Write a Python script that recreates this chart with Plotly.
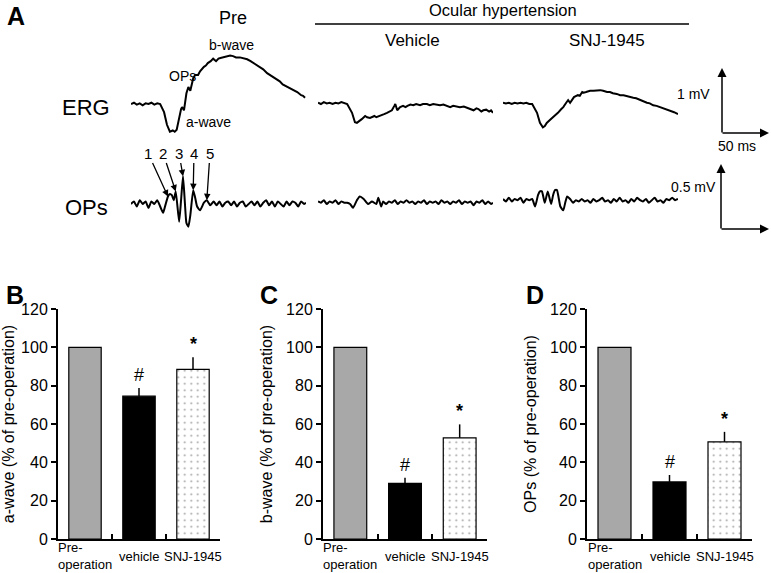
import plotly.graph_objects as go

W, H = 771, 573
FONT = "Liberation Sans, Arial, sans-serif"

# ---------------- data ----------------
# ERG traces (time ms, mV)
PRE_ERG = [(0,0.0),(3,0.02),(6,-0.01),(9,0.01),(12,-0.02),(15,0.01),(18,0.0),(21,0.02),(24,-0.01),(27,0.01),(30,0.0),
           (34,-0.13),(37,-0.33),(40,-0.44),(43,-0.42),(45,-0.44),(47,-0.41),(49,-0.25),(51.5,-0.08),(52.5,-0.05),(54.5,-0.10),
           (57,0.17),(59,0.27),(61,0.21),(64,0.41),(66,0.46),(69,0.46),(71,0.52),(73,0.56),(75,0.59),(77,0.61),(79,0.65),
           (82,0.68),(84.5,0.72),(87.5,0.68),(90,0.72),(92,0.73),(95,0.74),(99,0.75),(102,0.77),(105,0.76),(108,0.74),
           (112,0.74),(116,0.72),(119.5,0.71),(123,0.68),(126,0.65),(129,0.62),(133,0.57),(136,0.55),(140,0.49),(143,0.46),
           (146,0.43),(150,0.38),(153,0.36),(156,0.31),(161,0.27),(164,0.24),(168,0.22),(171,0.19),(175,0.14),(177,0.13),(179,0.10)]
VEH_ERG = [(0,0.02),(3,0.0),(6,0.03),(9,0.01),(12,0.02),(15,0.0),(18,0.02),(21,0.01),(24,0.03),(27,0.01),(30,0.0),
           (35,-0.14),(38,-0.29),(40,-0.30),(43,-0.27),(45,-0.24),(48.5,-0.19),(50.5,-0.21),(53.5,-0.22),(55.5,-0.21),
           (58,-0.19),(60,-0.21),(64,-0.19),(68,-0.16),(71,-0.14),(74,-0.11),(76,-0.10),(78.5,-0.03),(79.5,0.0),(81.5,-0.10),
           (84.5,-0.05),(87.5,-0.03),(90,-0.05),(92,-0.03),(95,-0.01),(98,-0.02),(101,0.0),(105,-0.02),(108,0.0),(112,0.0),
           (115,-0.02),(118.5,0.0),(122,-0.01),(125.5,-0.02),(129,-0.01),(133,-0.03),(136,-0.05),(139,-0.03),(142,-0.04),
           (146,-0.05),(150,-0.04),(153.5,-0.06),(157,-0.08),(160,-0.10),(163,-0.07),(165,-0.08),(168,-0.12),(170,-0.10),
           (173,-0.09),(176,-0.12),(178,-0.10),(180,-0.14)]
SNJ_ERG = [(0,0.02),(3,0.01),(6,0.02),(9,0.0),(12,0.02),(15,0.01),(18,0.02),(21,0.01),(24,0.02),(27,0.0),(30,0.0),
           (35,-0.14),(38,-0.30),(41,-0.37),(43,-0.35),(45,-0.30),(48.5,-0.25),(51.5,-0.21),(54,-0.18),(56.5,-0.14),
           (60,-0.08),(62,-0.05),(65,0.02),(67,0.06),(69,0.02),(71,0.06),(73,0.11),(77,0.14),(79,0.13),(81.5,0.19),
           (83,0.18),(85.5,0.19),(89.5,0.21),(93,0.21),(97,0.22),(100,0.22),(103,0.21),(107,0.19),(110,0.19),(113,0.17),
           (117,0.16),(120.5,0.14),(124,0.14),(127.5,0.13),(131,0.11),(134,0.10),(137,0.09),(141,0.06),(144,0.05),
           (148,0.02),(151,0.01),(154.5,-0.02),(158,-0.03),(162,-0.05),(165,-0.07),(167,-0.08),(170,-0.10),(172,-0.11),
           (176,-0.13),(180,-0.16)]

# OPs traces (time ms, mV)
PRE_OPS = [(0,0.0),(3,0.02),(6,-0.02),(9,0.03),(12,0.0),(15,0.02),(18,-0.03),(21,0.02),(24,0.0),(27,0.03),(30,-0.02),
           (33,-0.07),(35,-0.02),(38,0.06),(40,0.08),(42,0.07),(44,0.03),(46,0.10),(49.5,-0.14),(51.5,0.03),(53.5,0.22),
           (55.5,0.0),(57,-0.15),(59,-0.18),(61,-0.09),(64,0.11),(66,0.05),(68,-0.02),(71,-0.05),(75,0.01),(78,0.03),
           (81.5,-0.01),(85,0.02),(88,-0.01),(91,0.02),(94,-0.02),(97,0.01),(100,0.02),(103,-0.01),(106,0.02),(109,-0.02),
           (112,0.01),(115,0.02),(118,-0.02),(121,0.0),(124,0.02),(127,-0.01),(130,0.02),(133,-0.02),(136,0.01),(139,0.03),
           (142,-0.01),(145,0.02),(148,-0.02),(151,0.02),(154,0.0),(157,-0.02),(160,0.02),(163,-0.01),(166,0.02),(169,0.01),
           (172,-0.02),(175,0.02),(178,0.0),(180,0.01)]
VEH_OPS = [(0,0.02),(3,0.01),(6,0.03),(9,0.0),(12,0.02),(15,0.01),(18,0.03),(21,0.0),(24,0.02),(27,0.01),(30,0.01),
           (33,0.0),(36,-0.03),(40,0.03),(43,0.06),(47,0.04),(51.5,0.0),(55.5,0.02),(60,0.0),(62,0.05),(65,-0.02),(67,0.02),
           (70,0.0),(73,0.02),(76,0.01),(79,0.03),(82,0.0),(85,0.02),(88,0.01),(91,0.03),(94,0.01),(97,0.02),(100,0.0),
           (103,0.02),(106,0.01),(109,0.03),(112,0.0),(115,0.02),(118,0.01),(121,0.02),(124,0.0),(127,0.03),(130,0.01),
           (133,0.02),(136,0.0),(139,0.02),(142,0.01),(145,0.03),(148,0.0),(151,0.02),(154,0.01),(157,0.02),(160,-0.01),
           (163,0.02),(166,0.01),(169,0.03),(172,0.0),(175,0.02),(178,0.0),(180,0.01)]
SNJ_OPS = [(0,0.04),(3,0.02),(6,0.05),(9,0.02),(12,0.04),(15,0.03),(18,0.05),(21,0.01),(24,0.04),(27,0.03),(30,0.04),
           (33,-0.02),(36,0.07),(38,0.10),(40,0.10),(43,0.01),(46,0.10),(49.5,0.0),(51.5,0.07),(53.5,0.11),(55.5,0.11),
           (59,-0.02),(62,-0.05),(64,0.01),(66,0.06),(69,0.04),(72,0.01),(75,0.03),(78,0.02),(81,0.04),(84,0.02),(87,0.03),
           (90,0.01),(93,0.04),(96,0.02),(99,0.03),(102,0.05),(105,0.02),(108,0.03),(111,0.01),(114,0.04),(117,0.02),
           (120,0.05),(123,0.02),(126,0.03),(129,0.01),(132,0.04),(135,0.02),(138,0.05),(141,0.03),(144,0.02),(147,0.04),
           (150,0.01),(153,0.03),(156,0.05),(159,0.02),(162,0.03),(165,0.01),(168,0.04),(171,0.03),(174,0.05),(177,0.03),
           (180,0.04)]

# OP peak numbering (time ms, mV) on pre-operative OPs
OP_PEAK_LABELS = ["1", "2", "3", "4", "5"]
OP_PEAKS = [(38,0.06),(46,0.10),(53.5,0.22),(64,0.11),(78,0.03)]

# bar panels
CATEGORIES = ["Pre-operation", "vehicle", "SNJ-1945"]
CAT_LABELS = ["Pre-<br>operation", "vehicle", "SNJ-1945"]
A_WAVE = [100, 74.5, 88.5]
A_WAVE_SEM = [0, 4.3, 6.3]
B_WAVE = [100, 29, 52.8]
B_WAVE_SEM = [0, 3, 7]
OPS_AMP = [100, 29.8, 50.7]
OPS_AMP_SEM = [0, 3.6, 5.2]
SIG_MARKS = ["", "#", "<b>*</b>"]
Y_TICKS = [0, 20, 40, 60, 80, 100, 120]

# ---------------- figure ----------------
fig = go.Figure()

def px_x(p):
    return p / W

def px_y(p):
    return 1 - p / H

# trace panel geometry
TRACE_X = [(131, 306), (318, 493), (503, 678)]
ERG_Y = (40, 140)    # px top, bottom
OPS_Y = (160, 240)
ERG_RANGE = [-(140 - 104) / 63, (104 - 40) / 63]
OPS_RANGE = [-(240 - 204) / 126, (204 - 160) / 126]

erg_sets = [PRE_ERG, VEH_ERG, SNJ_ERG]
ops_sets = [PRE_OPS, VEH_OPS, SNJ_OPS]
layout_axes = {}
for i in range(3):
    for j, (sets, ydom, yr) in enumerate([(erg_sets, ERG_Y, ERG_RANGE), (ops_sets, OPS_Y, OPS_RANGE)]):
        n = 4 + i + 3 * j
        data = sets[i]
        line = dict(color="black", width=2)
        if j == 1:
            line.update(shape="spline", smoothing=0.5)
        fig.add_trace(go.Scatter(x=[d[0] for d in data], y=[d[1] for d in data], mode="lines",
                                 line=line, xaxis=f"x{n}", yaxis=f"y{n}",
                                 showlegend=False, hoverinfo="skip"))
        layout_axes[f"xaxis{n}"] = dict(domain=[px_x(TRACE_X[i][0]), px_x(TRACE_X[i][1])], range=[0, 180],
                                        visible=False, anchor=f"y{n}")
        layout_axes[f"yaxis{n}"] = dict(domain=[px_y(ydom[1]), px_y(ydom[0])], range=yr,
                                        visible=False, anchor=f"x{n}")

# bar panels
bar_panels = [
    ("", A_WAVE, A_WAVE_SEM, "a-wave (% of pre-operation)", (58, 220)),
    ("2", B_WAVE, B_WAVE_SEM, "b-wave (% of pre-operation)", (323, 487)),
    ("3", OPS_AMP, OPS_AMP_SEM, "OPs (% of pre-operation)", (587, 752)),
]
annotations = []
for suf, vals, sem, title, (x0, x1) in bar_panels:
    fig.add_trace(go.Bar(
        x=CATEGORIES, y=vals, width=0.6,
        marker=dict(color=["#a8a8a8", "black", "white"],
                    line=dict(color="black", width=1.2),
                    pattern=dict(shape=["", "", "."], fgcolor="#c8c8c8", bgcolor="white",
                                 size=6.5, solidity=0.08)),
        error_y=dict(type="data", array=sem, arrayminus=[0, 0, 0], symmetric=False,
                     color="black", thickness=1.5, width=0),
        xaxis=f"x{suf}", yaxis=f"y{suf}", showlegend=False, hoverinfo="skip"))
    layout_axes[f"xaxis{suf}"] = dict(
        domain=[px_x(x0), px_x(x1)], anchor=f"y{suf}", type="category", range=[-0.5, 2.5],
        tickson="boundaries", ticks="inside", ticklen=5, tickwidth=1.5, tickcolor="black",
        showticklabels=False, showline=True, linecolor="black", linewidth=2, showgrid=False, zeroline=False)
    layout_axes[f"yaxis{suf}"] = dict(
        domain=[px_y(539), px_y(309)], anchor=f"x{suf}", range=[0, 120], tickvals=Y_TICKS,
        ticks="outside", ticklen=5, tickwidth=1.5, tickcolor="black",
        showline=True, linecolor="black", linewidth=2, showgrid=False, zeroline=False,
        tickfont=dict(size=16, color="black", family=FONT),
        title=dict(text=title, font=dict(size=16, color="black", family=FONT), standoff=9))
    for k, cat in enumerate(CATEGORIES):
        annotations.append(dict(x=cat, y=0, xref=f"x{suf}", yref=f"y{suf}", text=CAT_LABELS[k],
                                showarrow=False, align="left", xanchor="center", yanchor="middle",
                                yshift=-17, font=dict(size=13, color="black", family=FONT)))
        if SIG_MARKS[k]:
            annotations.append(dict(x=cat, y=vals[k] + sem[k], xref=f"x{suf}", yref=f"y{suf}",
                                    text=SIG_MARKS[k], showarrow=False, yanchor="middle", yshift=13,
                                    font=dict(size=18, color="black", family=FONT)))

# OP peak arrows
num_px = [148, 163, 179, 194, 210]
for k, (t, v) in enumerate(OP_PEAKS):
    hx = TRACE_X[0][0] + (t / 180) * (TRACE_X[0][1] - TRACE_X[0][0])
    hy = 204 - v * 126
    annotations.append(dict(x=t, y=v, xref="x7", yref="y7", text=OP_PEAK_LABELS[k], showarrow=True,
                            arrowhead=2, arrowsize=1, arrowwidth=1.3, arrowcolor="black",
                            ax=num_px[k] - hx, ay=153 - hy, font=dict(size=15, color="black", family=FONT)))

def txt(x, y, s, size, bold=False, xanchor="center"):
    annotations.append(dict(x=px_x(x), y=px_y(y), xref="paper", yref="paper", text=f"<b>{s}</b>" if bold else s,
                            showarrow=False, xanchor=xanchor, yanchor="middle", borderpad=0,
                            font=dict(size=size, color="black", family=FONT)))

txt(16, 16, "A", 25, bold=True)
txt(15, 295, "B", 25, bold=True)
txt(269, 295, "C", 25, bold=True)
txt(535, 295, "D", 25, bold=True)
txt(233, 18, "Pre", 18)
txt(503, 10, "Ocular hypertension", 16.5)
txt(412, 40, "Vehicle", 17)
txt(607, 40, "SNJ-1945", 17)
txt(86, 107, "ERG", 22)
txt(86, 207, "OPs", 22)
txt(231, 45, "b-wave", 14)
txt(182, 76, "OPs", 14)
txt(208, 122, "a-wave", 14)
txt(693, 94, "1 mV", 14)
txt(737, 146, "50 ms", 14)
txt(693, 187, "0.5 mV", 14)

# scale bar arrows
def arrow(hx, hy, tx, ty):
    annotations.append(dict(x=px_x(hx), y=px_y(hy), xref="paper", yref="paper", text="", showarrow=True,
                            ax=tx - hx, ay=ty - hy, arrowhead=2, arrowsize=1.2, arrowwidth=1.5,
                            arrowcolor="black"))

arrow(722, 68, 722, 134)
arrow(769, 133, 721, 133)
arrow(721, 164, 721, 230)
arrow(769, 229, 720, 229)

shapes = [dict(type="line", xref="paper", yref="paper", x0=px_x(315), x1=px_x(689), y0=px_y(24), y1=px_y(24),
               line=dict(color="black", width=1.5))]

fig.update_layout(width=W, height=H, margin=dict(l=0, r=0, t=0, b=0, autoexpand=False),
                  paper_bgcolor="white", plot_bgcolor="white", annotations=annotations, shapes=shapes,
                  bargap=0.4, font=dict(family=FONT, color="black"), **layout_axes)

POST = ("var d=document.getElementById('{plot_id}');"
        "d.style.position='fixed';d.style.top='0px';d.style.left='0px';"
        "document.body.style.margin='0';document.documentElement.style.overflow='hidden';")
fig.write_html("out.html", config={"displayModeBar": False}, post_script=POST)
